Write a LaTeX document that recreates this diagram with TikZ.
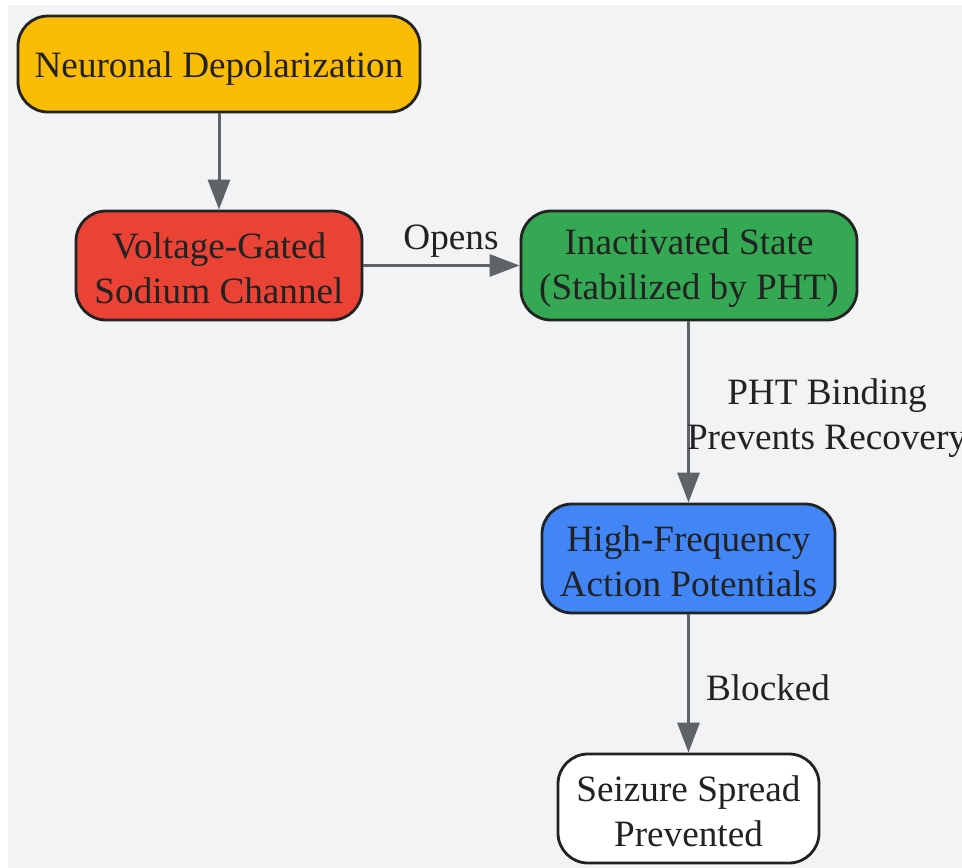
\documentclass[tikz,border=0pt]{standalone}
\usepackage{fontspec}
\setmainfont{Liberation Serif}
\usetikzlibrary{arrows.meta}
\definecolor{bg}{HTML}{F1F3F5}
\definecolor{cyellow}{HTML}{FBBC05}
\definecolor{cred}{HTML}{EA4335}
\definecolor{cgreen}{HTML}{34A853}
\definecolor{cblue}{HTML}{4285F4}
\definecolor{edgec}{HTML}{5F6368}
\definecolor{txt}{HTML}{222222}
\tikzset{
  box/.style={draw=txt, line width=2.8pt, rounded corners=30pt, inner sep=0pt},
  conn/.style={draw=edgec, line width=3pt, -{Triangle[length=30pt,width=22pt]}},
  lbl/.style={text=txt, font=\fontsize{37.2}{45}\selectfont, align=center, inner sep=0pt},
}
\begin{document}
\begin{tikzpicture}[x=1pt,y=-1pt]
\useasboundingbox (0,0) rectangle (962,868);
\fill[white] (0,0) rectangle (962,868);
\fill[bg] (8,5) rectangle (962,868);
\node[box, fill=cyellow, minimum width=402pt, minimum height=96pt] (n1) at (219,64) {};
\node[box, fill=cred, minimum width=286pt, minimum height=109pt] (n2) at (219,265.5) {};
\node[box, fill=cgreen, minimum width=336pt, minimum height=109pt] (n3) at (689,265.5) {};
\node[box, fill=cblue, minimum width=293pt, minimum height=109pt] (n4) at (688.5,558.5) {};
\node[box, fill=white, minimum width=261pt, minimum height=109pt] (n5) at (688.5,808.5) {};
\node[lbl] (t1) at ([yshift=-5pt]n1.center) {Neuronal Depolarization};
\node[lbl] (t2) at ([yshift=-3pt]n2.center) {Voltage-Gated\\Sodium Channel};
\node[lbl] (t3) at ([yshift=-3pt]n3.center) {Inactivated State\\(Stabilized by PHT)};
\node[lbl] (t4) at ([yshift=-3pt]n4.center) {High-Frequency\\Action Potentials};
\node[lbl] (t5) at ([yshift=-3pt]n5.center) {Seizure Spread\\Prevented};
\draw[conn] (n1.south) -- (n2.north);
\draw[conn] (n2.east) -- (n3.west);
\draw[conn] (n3.south -| n4.north) -- (n4.north);
\draw[conn] (n4.south) -- (n5.north);
\node[lbl] (l1) at (451,241) {Opens};
\node[lbl] (l2) at (827,418) {PHT Binding\\Prevents Recovery};
\node[lbl] (l3) at (768,688) {Blocked};
\end{tikzpicture}
\end{document}
